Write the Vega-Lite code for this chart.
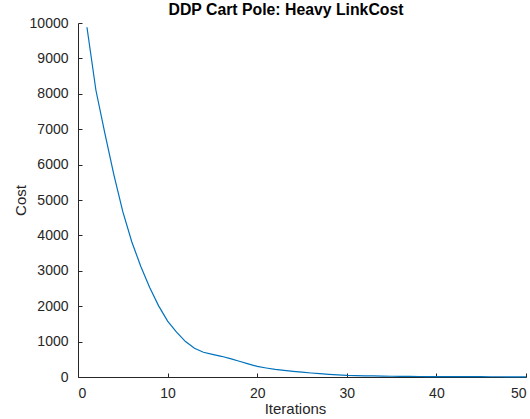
{
  "$schema": "https://vega.github.io/schema/vega-lite/v6.json",
  "width": 448,
  "height": 354,
  "autosize": {"type": "none"},
  "padding": {"left": 78, "top": 23, "right": 4, "bottom": 42},
  "background": "white",
  "title": {
    "text": "DDP Cart Pole: Heavy LinkCost",
    "font": "Liberation Sans",
    "fontSize": 15.8,
    "fontWeight": "bold",
    "color": "#000000",
    "anchor": "middle",
    "frame": "group",
    "baseline": "alphabetic",
    "offset": 0,
    "dx": -16,
    "dy": 15
  },
  "config": {
    "view": {"stroke": null},
    "axis": {
      "labelFont": "Liberation Sans",
      "titleFont": "Liberation Sans",
      "labelColor": "#262626",
      "titleColor": "#262626",
      "domainColor": "#262626",
      "tickColor": "#262626",
      "grid": false,
      "labelFontSize": 14,
      "titleFontSize": 15,
      "titleFontWeight": "normal",
      "tickSize": -4,
      "domainWidth": 1,
      "tickWidth": 1
    }
  },
  "data": {
    "values": [
      {"it": 1, "cost": 9880},
      {"it": 2, "cost": 8100},
      {"it": 3, "cost": 6880},
      {"it": 4, "cost": 5720},
      {"it": 5, "cost": 4670},
      {"it": 6, "cost": 3820},
      {"it": 7, "cost": 3130},
      {"it": 8, "cost": 2530},
      {"it": 9, "cost": 2010},
      {"it": 10, "cost": 1580},
      {"it": 11, "cost": 1270},
      {"it": 12, "cost": 1000},
      {"it": 13, "cost": 810},
      {"it": 14, "cost": 700},
      {"it": 15, "cost": 640},
      {"it": 16, "cost": 585},
      {"it": 17, "cost": 520},
      {"it": 18, "cost": 445},
      {"it": 19, "cost": 370},
      {"it": 20, "cost": 300},
      {"it": 21, "cost": 255},
      {"it": 22, "cost": 215},
      {"it": 23, "cost": 185},
      {"it": 24, "cost": 160},
      {"it": 25, "cost": 135},
      {"it": 26, "cost": 113},
      {"it": 27, "cost": 93},
      {"it": 28, "cost": 75},
      {"it": 29, "cost": 60},
      {"it": 30, "cost": 47},
      {"it": 31, "cost": 40},
      {"it": 32, "cost": 34},
      {"it": 33, "cost": 29},
      {"it": 34, "cost": 25},
      {"it": 35, "cost": 21},
      {"it": 36, "cost": 18},
      {"it": 37, "cost": 16},
      {"it": 38, "cost": 14},
      {"it": 39, "cost": 12},
      {"it": 40, "cost": 11},
      {"it": 41, "cost": 10},
      {"it": 42, "cost": 9},
      {"it": 43, "cost": 9},
      {"it": 44, "cost": 8},
      {"it": 45, "cost": 8},
      {"it": 46, "cost": 7},
      {"it": 47, "cost": 7},
      {"it": 48, "cost": 6},
      {"it": 49, "cost": 6},
      {"it": 50, "cost": 5}
    ]
  },
  "mark": {"type": "line", "color": "#0072BD", "strokeWidth": 1.2, "interpolate": "linear"},
  "encoding": {
    "x": {
      "field": "it",
      "type": "quantitative",
      "scale": {"domain": [0, 50], "nice": false, "zero": false},
      "axis": {
        "title": "Iterations",
        "values": [0, 10, 20, 30, 40, 50],
        "format": "d",
        "labelPadding": 13,
        "labelBaseline": "top",
        "titleX": 217,
        "titleY": 36,
        "titleAlign": "center",
        "titleBaseline": "alphabetic"
      }
    },
    "y": {
      "field": "cost",
      "type": "quantitative",
      "scale": {"domain": [0, 10000], "nice": false},
      "axis": {
        "title": "Cost",
        "values": [0, 1000, 2000, 3000, 4000, 5000, 6000, 7000, 8000, 9000, 10000],
        "format": "d",
        "labelPadding": 14,
        "titleX": -53,
        "titleY": 177,
        "titleAngle": -90,
        "titleAlign": "center",
        "titleBaseline": "alphabetic"
      }
    }
  }
}
